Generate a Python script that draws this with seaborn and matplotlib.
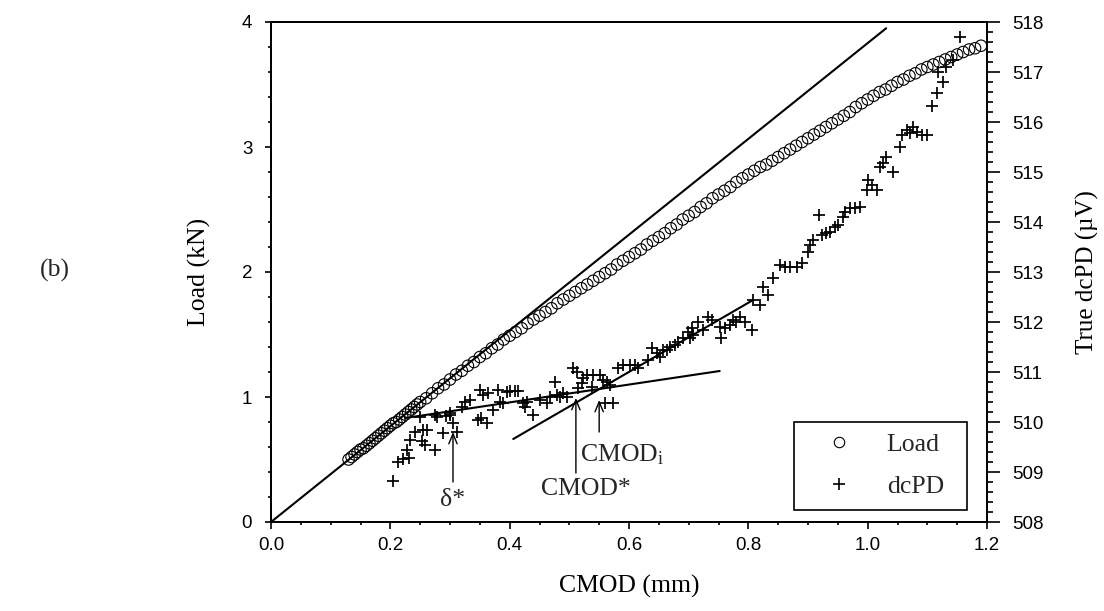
import matplotlib
matplotlib.use("Agg")
import matplotlib.pyplot as plt
import seaborn as sns
from matplotlib.ticker import MultipleLocator, FormatStrFormatter
from matplotlib.lines import Line2D

# ---------------- data ----------------
load_cmod = [0.130, 0.135, 0.140, 0.145, 0.150, 0.155, 0.160, 0.165, 0.170, 0.175,
             0.180, 0.185, 0.190, 0.195, 0.200, 0.205, 0.210, 0.215, 0.220, 0.225,
             0.230, 0.235, 0.240, 0.245, 0.250, 0.26, 0.27, 0.28, 0.29, 0.30,
             0.31, 0.32, 0.33, 0.34, 0.35, 0.36, 0.37, 0.38, 0.39, 0.40,
             0.41, 0.42, 0.43, 0.44, 0.45, 0.46, 0.47, 0.48, 0.49, 0.50,
             0.51, 0.52, 0.53, 0.54, 0.55, 0.56, 0.57, 0.58, 0.59, 0.60,
             0.61, 0.62, 0.63, 0.64, 0.65, 0.66, 0.67, 0.68, 0.69, 0.70,
             0.71, 0.72, 0.73, 0.74, 0.75, 0.76, 0.77, 0.78, 0.79, 0.80,
             0.81, 0.82, 0.83, 0.84, 0.85, 0.86, 0.87, 0.88, 0.89, 0.90,
             0.91, 0.92, 0.93, 0.94, 0.95, 0.96, 0.97, 0.98, 0.99, 1.00,
             1.01, 1.02, 1.03, 1.04, 1.05, 1.06, 1.07, 1.08, 1.09, 1.10,
             1.11, 1.12, 1.13, 1.14, 1.15, 1.16, 1.17, 1.18, 1.19]
load_kn = [0.50, 0.52, 0.54, 0.56, 0.58, 0.59, 0.61, 0.63, 0.65, 0.67,
           0.69, 0.71, 0.73, 0.75, 0.77, 0.79, 0.80, 0.82, 0.84, 0.86,
           0.88, 0.90, 0.92, 0.94, 0.96, 0.99, 1.03, 1.07, 1.10, 1.14,
           1.18, 1.21, 1.25, 1.28, 1.32, 1.35, 1.39, 1.42, 1.46, 1.49,
           1.52, 1.55, 1.59, 1.62, 1.65, 1.68, 1.71, 1.75, 1.78, 1.81,
           1.84, 1.87, 1.90, 1.93, 1.96, 1.99, 2.02, 2.06, 2.09, 2.12,
           2.15, 2.18, 2.22, 2.25, 2.28, 2.31, 2.35, 2.38, 2.42, 2.45,
           2.48, 2.52, 2.55, 2.59, 2.62, 2.65, 2.68, 2.72, 2.75, 2.78,
           2.81, 2.84, 2.86, 2.89, 2.92, 2.95, 2.98, 3.01, 3.04, 3.07,
           3.10, 3.13, 3.16, 3.19, 3.22, 3.25, 3.28, 3.32, 3.35, 3.38,
           3.41, 3.44, 3.46, 3.49, 3.52, 3.54, 3.57, 3.59, 3.62, 3.64,
           3.66, 3.68, 3.70, 3.72, 3.74, 3.76, 3.78, 3.79, 3.81]

pd_cmod = [0.204, 0.213, 0.222, 0.228, 0.232, 0.233, 0.241, 0.250, 0.253, 0.255,
           0.258, 0.261, 0.275, 0.275, 0.278, 0.288, 0.293, 0.300, 0.300, 0.305,
           0.311, 0.320, 0.325, 0.333, 0.347, 0.350, 0.352, 0.355, 0.362, 0.364,
           0.372, 0.380, 0.384, 0.389, 0.395, 0.400, 0.409, 0.414, 0.422, 0.426,
           0.429, 0.439, 0.451, 0.462, 0.467, 0.476, 0.479, 0.484, 0.489, 0.496,
           0.506, 0.513, 0.515, 0.521, 0.523, 0.530, 0.538, 0.540, 0.551, 0.557,
           0.560, 0.563, 0.568, 0.573, 0.582, 0.590, 0.602, 0.610, 0.615, 0.632,
           0.638, 0.647, 0.652, 0.657, 0.664, 0.669, 0.677, 0.682, 0.690, 0.699,
           0.702, 0.705, 0.708, 0.716, 0.724, 0.732, 0.739, 0.752, 0.754, 0.761,
           0.769, 0.775, 0.780, 0.786, 0.794, 0.806, 0.808, 0.820, 0.825, 0.833,
           0.842, 0.853, 0.861, 0.870, 0.881, 0.890, 0.900, 0.903, 0.908, 0.918,
           0.923, 0.931, 0.937, 0.945, 0.950, 0.959, 0.962, 0.970, 0.979, 0.987,
           0.999, 1.001, 1.007, 1.015, 1.021, 1.026, 1.031, 1.042, 1.054, 1.057,
           1.066, 1.071, 1.076, 1.082, 1.091, 1.099, 1.108, 1.117, 1.118, 1.126,
           1.132, 1.143, 1.155]
pd_uv = [508.82, 509.20, 509.26, 509.44, 509.28, 509.64, 509.80, 510.10, 509.62, 509.84,
         509.54, 509.84, 509.44, 510.14, 510.10, 509.78, 510.12, 510.14, 510.18, 509.98,
         509.80, 510.30, 510.40, 510.44, 510.04, 510.64, 510.08, 510.54, 509.98, 510.58,
         510.25, 510.64, 510.40, 510.38, 510.60, 510.62, 510.62, 510.62, 510.38, 510.30,
         510.40, 510.14, 510.44, 510.38, 510.50, 510.80, 510.54, 510.50, 510.58, 510.50,
         511.08, 511.00, 510.68, 510.78, 510.88, 510.94, 510.70, 510.94, 510.94, 510.84,
         510.38, 510.80, 510.74, 510.38, 511.08, 511.14, 511.14, 511.14, 511.08, 511.24,
         511.48, 511.38, 511.30, 511.44, 511.44, 511.50, 511.54, 511.60, 511.68, 511.80,
         511.68, 511.88, 511.74, 512.00, 511.84, 512.10, 512.04, 511.90, 511.68, 511.88,
         511.94, 512.04, 512.00, 512.10, 512.00, 511.84, 512.44, 512.34, 512.70, 512.54,
         512.88, 513.14, 513.10, 513.10, 513.10, 513.18, 513.40, 513.54, 513.64, 514.14,
         513.74, 513.78, 513.80, 513.90, 513.94, 514.10, 514.20, 514.28, 514.28, 514.30,
         514.64, 514.84, 514.74, 514.64, 515.10, 515.18, 515.30, 515.00, 515.50, 515.74,
         515.84, 515.78, 515.90, 515.80, 515.74, 515.74, 516.32, 516.58, 517.00, 516.80,
         517.10, 517.24, 517.70]

# straight-line fits drawn on the figure (end points)
elastic_x = [0.0, 1.031]
elastic_y = [0.0, 3.95]
fit1_x = [0.225, 0.752]
fit1_y = [510.08, 511.02]
fit2_x = [0.406, 0.808]
fit2_y = [509.66, 512.44]

sns.set_theme(style="ticks")
plt.rcParams["font.family"] = ["Liberation Sans", "DejaVu Sans"]
plt.rcParams["mathtext.fontset"] = "custom"
plt.rcParams["mathtext.rm"] = "Liberation Serif"
plt.rcParams["mathtext.it"] = "Liberation Serif:italic"
serif = ["Liberation Serif", "DejaVu Serif"]

W, H = 1104, 611
fig = plt.figure(figsize=(W / 100, H / 100), dpi=100)
ax = fig.add_axes([271 / W, 1 - 522 / H, 716 / W, 500 / H])
ax2 = ax.twinx()

# load (left axis)
sns.lineplot(x=elastic_x, y=elastic_y, ax=ax, color="black", lw=1.5)
sns.scatterplot(x=load_cmod, y=load_kn, ax=ax, marker="o", s=68,
                facecolors="none", edgecolor="black", linewidth=0.8)

# dcPD (right axis)
sns.lineplot(x=fit1_x, y=fit1_y, ax=ax2, color="black", lw=1.5)
sns.lineplot(x=fit2_x, y=fit2_y, ax=ax2, color="black", lw=1.5)
sns.scatterplot(x=pd_cmod, y=pd_uv, ax=ax2, marker="+", s=64,
                color="black", linewidth=1.25)

ax.set_xlim(0, 1.2)
ax.set_ylim(0, 4)
ax2.set_ylim(508, 518)
ax.xaxis.set_major_locator(MultipleLocator(0.2))
ax.xaxis.set_minor_locator(MultipleLocator(0.05))
ax.yaxis.set_major_locator(MultipleLocator(1))
ax.yaxis.set_minor_locator(MultipleLocator(0.2))
ax2.yaxis.set_major_locator(MultipleLocator(1))
ax2.yaxis.set_minor_locator(MultipleLocator(0.2))
ax.xaxis.set_major_formatter(FormatStrFormatter("%.1f"))

for a in (ax, ax2):
    for s in a.spines.values():
        s.set_linewidth(1.3)
        s.set_color("black")
ax.tick_params(which="both", direction="out", top=False, right=False,
               colors="black", labelsize=13.5, width=1.2)
ax.tick_params(axis="x", which="major", length=5, pad=6)
ax.tick_params(axis="x", which="minor", length=2.5)
ax.tick_params(axis="y", which="major", length=4.5, pad=9)
ax.tick_params(axis="y", which="minor", length=2.5)
ax2.tick_params(which="both", direction="out", colors="black",
                labelsize=13.5, width=1.2)
ax2.tick_params(which="major", length=9.5, pad=8.5)
ax2.tick_params(which="minor", length=4)

ax.set_xlabel("CMOD (mm)", family=serif, fontsize=18.5, color="black")
ax.set_ylabel("Load (kN)", family=serif, fontsize=18.5, color="black")
ax2.set_ylabel("True dcPD (\u00b5V)", family=serif, fontsize=18, color="black")
ax.xaxis.set_label_coords(0.5, -0.106)
ax.yaxis.set_label_coords(-0.084, 0.5)
ax2.yaxis.set_label_coords(1.124, 0.5)

fig.text(55 / W, 1 - 270 / H, "(b)", family=serif, fontsize=18.5,
         ha="center", va="center")

# annotations
arrow = dict(arrowstyle="->,head_length=0.6,head_width=0.25", lw=1.0,
             color="black", shrinkA=0, shrinkB=0, mutation_scale=12)
ax2.annotate("", xy=(0.305, 509.80), xytext=(0.305, 508.80), arrowprops=arrow)
ax2.text(0.305, 508.44, "\u03b4*", family=serif, fontsize=18.5,
         ha="center", va="center")
ax2.annotate("", xy=(0.511, 510.48), xytext=(0.511, 508.98), arrowprops=arrow)
ax2.text(0.528, 508.66, "CMOD*", family=serif, fontsize=18.5,
         ha="center", va="center")
ax2.annotate("", xy=(0.550, 510.44), xytext=(0.550, 509.80), arrowprops=arrow)
ax2.text(0.518, 509.34, "CMOD$_{\\rm i}$", family=serif, fontsize=18.5,
         ha="left", va="center")

handles = [Line2D([], [], ls="none", marker="o", mfc="none", mec="black",
                  ms=7.5, mew=0.8),
           Line2D([], [], ls="none", marker="+", color="black", ms=8, mew=1.2)]
leg = ax2.legend(handles, ["Load", "dcPD"], loc="lower left",
                 bbox_to_anchor=(0.730, 0.024, 0.242, 0.17), mode="expand",
                 borderaxespad=0,
                 prop={"family": serif, "size": 18.5}, frameon=True,
                 fancybox=False, edgecolor="black", framealpha=1,
                 borderpad=0.45, labelspacing=0.75, handlelength=2.6,
                 handletextpad=0.57)
leg.get_frame().set_linewidth(1.2)

fig.savefig("out.png", dpi=100)
